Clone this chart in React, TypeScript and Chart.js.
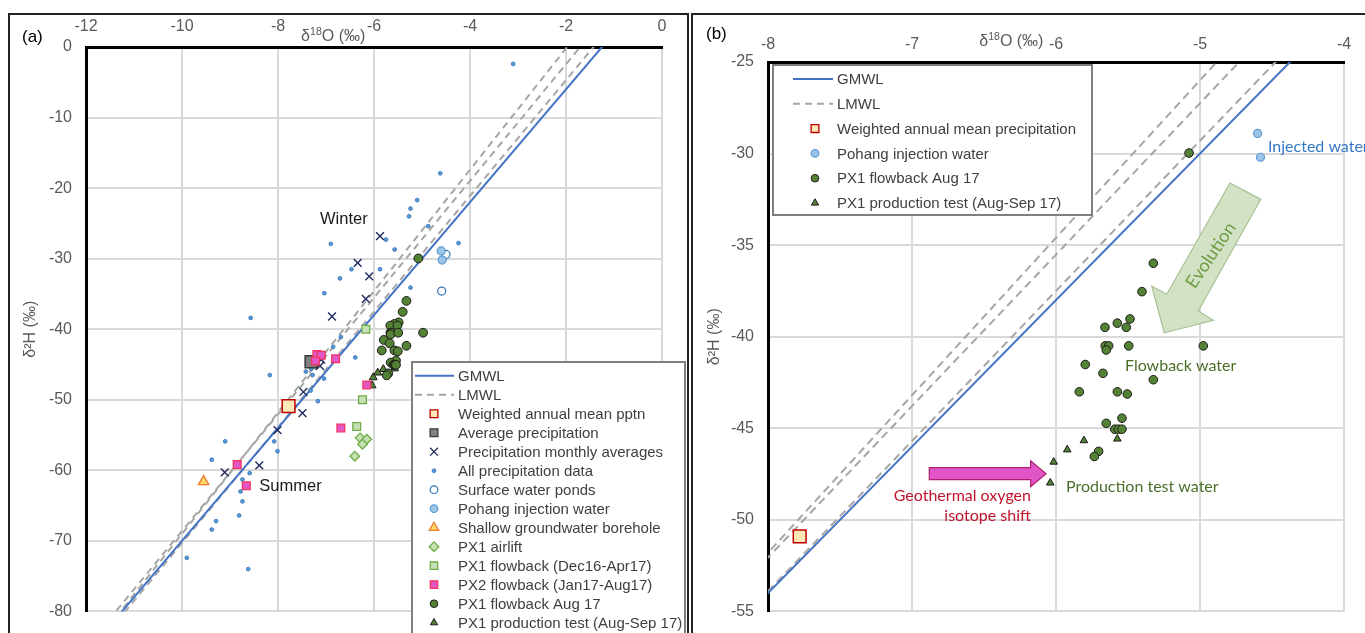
import React, { useEffect, useRef } from 'react';
import { Chart, registerables } from 'chart.js';

Chart.register(...registerables);

type P = [number, number];

const FONT = "'Liberation Sans', Arial, sans-serif";
const CAL = "Lato, 'Open Sans', sans-serif";

// ---------- axes ----------
const xRangeA: P = [-12, 0];
const xStepA = 2;
const yRangeA: P = [-80, 0];
const yStepA = 10;
const xRangeB: P = [-8, -4];
const xStepB = 1;
const yRangeB: P = [-55, -25];
const yStepB = 5;

// ---------- meteoric water lines (end points, d18O, d2H) ----------
const gmwl: P[] = [[-12, -86], [0, 10]];
const lmwl1: P[] = [[-12, -86.2], [0, 17]];
const lmwl2: P[] = [[-12, -85.14], [0, 14.1]];
const lmwl3: P[] = [[-12, -86.7], [0, 11.7]];

// ---------- samples (d18O, d2H) ----------
const weightedMean: P[] = [[-7.78, -50.9]];
const averagePrecip: P[] = [[-7.31, -44.6]];
const monthlyAverages: P[] = [
  [-5.875, -26.8], [-6.34, -30.6], [-6.1, -32.5], [-6.17, -35.7], [-6.875, -38.2], [-7.1, -44.3],
  [-7.125, -45.2], [-7.47, -48.9], [-7.49, -51.9], [-8.01, -54.3], [-8.39, -59.3], [-9.11, -60.3],
];
const allPrecip: P[] = [
  [-3.1, -2.4], [-4.62, -17.9], [-5.1, -21.7], [-5.24, -22.9], [-5.27, -24.0], [-4.87, -25.4],
  [-4.24, -27.8], [-5.75, -27.3], [-5.57, -28.7], [-5.875, -31.5], [-5.24, -34.1], [-6.9, -27.9],
  [-6.47, -31.5], [-6.71, -32.8], [-7.035, -34.9], [-8.57, -38.4], [-6.69, -41.1], [-6.85, -42.5],
  [-6.39, -44.0], [-7.42, -46.0], [-7.28, -46.5], [-7.31, -45.6], [-7.04, -47.0], [-8.17, -46.5],
  [-7.32, -48.7], [-7.17, -50.2], [-9.1, -55.9], [-8.08, -55.9], [-8.01, -57.3], [-9.38, -58.5],
  [-8.59, -60.4], [-8.74, -61.3], [-8.78, -63.0], [-8.74, -64.4], [-8.81, -66.4], [-9.29, -67.2],
  [-9.38, -68.4], [-9.9, -72.4], [-8.62, -74.0],
];
const surfacePonds: P[] = [[-4.5, -29.4], [-4.59, -34.6]];
const pohangInjection: P[] = [[-4.6, -28.9], [-4.58, -30.2]];
const shallowGroundwater: P[] = [[-9.55, -61.6]];
const px1Airlift: P[] = [[-6.29, -55.4], [-6.15, -55.6], [-6.24, -56.3], [-6.4, -58.0]];
const px1FlowbackEarly: P[] = [[-6.17, -40.0], [-6.24, -50.0], [-6.36, -53.8]];
const px2Flowback: P[] = [
  [-7.19, -43.6], [-7.1, -43.7], [-7.22, -44.5], [-6.8, -44.2], [-6.15, -47.9], [-6.69, -54.0],
  [-8.85, -59.2], [-8.66, -62.2],
];
const px1FlowbackAug: P[] = [
  [-5.076, -29.97], [-5.324, -35.99], [-5.403, -37.54], [-5.486, -39.03], [-5.574, -39.26],
  [-5.66, -39.49], [-5.512, -39.49], [-5.658, -40.5], [-5.634, -40.5], [-5.651, -40.73],
  [-5.495, -40.5], [-4.977, -40.5], [-5.797, -41.52], [-5.674, -42.0], [-5.324, -42.35],
  [-5.838, -43.01], [-5.574, -43.01], [-5.505, -43.13], [-5.542, -44.45], [-5.651, -44.73],
  [-5.592, -45.05], [-5.567, -45.05], [-5.542, -45.05], [-5.704, -46.26], [-5.734, -46.54],
];
const px1Production: P[] = [[-6.016, -46.84], [-6.04, -47.98], [-5.922, -46.17], [-5.806, -45.67], [-5.574, -45.58]];

// ---------- annotations (data coordinates) ----------
const winterLabel: P = [-7.125, -24.5];
const summerLabel: P = [-8.39, -62.24];
const titleCenterA = -6.85;
const titleCenterB = -6.31;
const evolutionArrow: P[] = [
  [-4.792, -31.61], [-4.578, -32.5], [-5.012, -38.6], [-4.908, -39.1], [-5.248, -39.79], [-5.335, -37.24], [-5.231, -37.68],
];
const evolutionLabel: P = [-4.924, -35.55];
const shiftArrow: P[] = [
  [-6.88, -47.15], [-6.176, -47.15], [-6.176, -46.77], [-6.069, -47.48], [-6.176, -48.19], [-6.176, -47.8], [-6.88, -47.8],
];
const injectedLabel: P = [-4.528, -29.63];
const flowbackLabel: P = [-5.521, -41.57];
const productionLabel: P = [-5.931, -48.18];
const geoLabel1: P = [-6.174, -48.69];
const geoLabel2: P = [-6.174, -49.76];

type Style = 'rect' | 'circle' | 'triangle' | 'rectRot' | 'crossRot';
interface Spec { label: string; data: P[]; style: Style; fill: string; stroke: string; lw: number; order: number }

const S = {
  weighted: { label: 'Weighted annual mean pptn', data: weightedMean, style: 'rect', fill: '#fde9b8', stroke: '#c00000', lw: 1.5, order: 2 },
  average: { label: 'Average precipitation', data: averagePrecip, style: 'rect', fill: '#808080', stroke: '#3a3a3a', lw: 1.5, order: 4 },
  monthly: { label: 'Precipitation monthly averages', data: monthlyAverages, style: 'crossRot', fill: '#1f2a5c', stroke: '#1f2a5c', lw: 1.4, order: 3 },
  all: { label: 'All precipitation data', data: allPrecip, style: 'circle', fill: '#5b9bd5', stroke: '#2e6fb8', lw: 0.8, order: 9 },
  ponds: { label: 'Surface water ponds', data: surfacePonds, style: 'circle', fill: '#ffffff', stroke: '#2e75b6', lw: 1.2, order: 7 },
  pohang: { label: 'Pohang injection water', data: pohangInjection, style: 'circle', fill: '#9dc3e6', stroke: '#5b9bd5', lw: 1.2, order: 6 },
  shallow: { label: 'Shallow groundwater borehole', data: shallowGroundwater, style: 'triangle', fill: '#ffd966', stroke: '#ed7d31', lw: 1.4, order: 5 },
  airlift: { label: 'PX1 airlift', data: px1Airlift, style: 'rectRot', fill: '#c5e0b4', stroke: '#70ad47', lw: 1.3, order: 5 },
  early: { label: 'PX1 flowback (Dec16-Apr17)', data: px1FlowbackEarly, style: 'rect', fill: '#c5e0b4', stroke: '#70ad47', lw: 1.3, order: 5 },
  px2: { label: 'PX2 flowback (Jan17-Aug17)', data: px2Flowback, style: 'rect', fill: '#e256c6', stroke: '#f5345f', lw: 1.3, order: 1 },
  aug: { label: 'PX1 flowback Aug 17', data: px1FlowbackAug, style: 'circle', fill: '#548235', stroke: '#1a1a1a', lw: 1, order: 1 },
  prod: { label: 'PX1 production test (Aug-Sep 17)', data: px1Production, style: 'triangle', fill: '#548235', stroke: '#1a1a1a', lw: 1, order: 1 },
} as Record<string, Spec>;

const toXY = (arr: P[]) => arr.map(([x, y]) => ({ x, y }));

function pointDs(s: Spec, r: number) {
  return {
    label: s.label, data: toXY(s.data), showLine: false, pointStyle: s.style, pointRadius: r, pointHoverRadius: r,
    pointBackgroundColor: s.fill, pointBorderColor: s.stroke, pointBorderWidth: s.lw, pointHoverBorderWidth: s.lw,
    backgroundColor: s.fill, borderColor: s.stroke, order: s.order,
  };
}
function lineDs(label: string, data: P[], color: string, dash: number[]) {
  return {
    label, data: toXY(data), showLine: true, borderColor: color, borderWidth: 2, borderDash: dash,
    pointRadius: 0, pointHoverRadius: 0, fill: false, order: 20,
  };
}

function drawMarker(ctx: CanvasRenderingContext2D, style: Style, x: number, y: number, r: number, fill: string, stroke: string, lw: number) {
  ctx.save();
  ctx.beginPath();
  ctx.lineWidth = lw;
  ctx.fillStyle = fill;
  ctx.strokeStyle = stroke;
  if (style === 'rect') {
    const s = r * Math.SQRT1_2;
    ctx.rect(x - s, y - s, 2 * s, 2 * s);
  } else if (style === 'circle') {
    ctx.arc(x, y, r, 0, Math.PI * 2);
  } else if (style === 'triangle') {
    ctx.moveTo(x, y - r);
    ctx.lineTo(x + r * 0.866, y + r * 0.5);
    ctx.lineTo(x - r * 0.866, y + r * 0.5);
    ctx.closePath();
  } else if (style === 'rectRot') {
    ctx.moveTo(x, y - r);
    ctx.lineTo(x + r, y);
    ctx.lineTo(x, y + r);
    ctx.lineTo(x - r, y);
    ctx.closePath();
  } else if (style === 'crossRot') {
    const d = r * Math.SQRT1_2;
    ctx.moveTo(x - d, y - d); ctx.lineTo(x + d, y + d);
    ctx.moveTo(x + d, y - d); ctx.lineTo(x - d, y + d);
    ctx.stroke();
    ctx.restore();
    return;
  }
  ctx.fill();
  ctx.stroke();
  ctx.restore();
}

interface LegendItem { label: string; line?: { color: string; dash: number[] }; spec?: Spec; r?: number }
interface LegendGeom { bx: number; by: number; bw: number; bh: number; y0: number; dy: number; lx0: number; lx1: number; mx: number; tx: number; size: number }

function drawLegend(ctx: CanvasRenderingContext2D, items: LegendItem[], g: LegendGeom) {
  ctx.save();
  ctx.fillStyle = '#ffffff';
  ctx.fillRect(g.bx, g.by, g.bw, g.bh);
  ctx.strokeStyle = '#7f7f7f';
  ctx.lineWidth = 2;
  ctx.strokeRect(g.bx, g.by, g.bw, g.bh);
  items.forEach((it, i) => {
    const y = g.y0 + i * g.dy;
    if (it.line) {
      ctx.beginPath();
      ctx.setLineDash(it.line.dash);
      ctx.strokeStyle = it.line.color;
      ctx.lineWidth = 2;
      ctx.moveTo(g.lx0, y);
      ctx.lineTo(g.lx1, y);
      ctx.stroke();
      ctx.setLineDash([]);
    } else if (it.spec) {
      drawMarker(ctx, it.spec.style, g.mx, y, it.r || 4, it.spec.fill, it.spec.stroke, Math.min(it.spec.lw, 1.3));
    }
    ctx.fillStyle = '#404040';
    ctx.font = `${g.size}px ${FONT}`;
    ctx.textAlign = 'left';
    ctx.textBaseline = 'middle';
    ctx.fillText(it.label, g.tx, y + 1);
  });
  ctx.restore();
}

function drawDeltaTitle(ctx: CanvasRenderingContext2D, cx: number, cy: number, size: number) {
  const f = (s: number) => `${s}px ${FONT}`;
  ctx.save();
  ctx.fillStyle = '#595959';
  ctx.textAlign = 'left';
  ctx.textBaseline = 'middle';
  ctx.font = f(size); const w1 = ctx.measureText('δ').width;
  ctx.font = f(size * 0.66); const w2 = ctx.measureText('18').width;
  ctx.font = f(size); const w3 = ctx.measureText('O (‰)').width;
  let x = cx - (w1 + w2 + w3) / 2;
  ctx.font = f(size); ctx.fillText('δ', x, cy); x += w1;
  ctx.font = f(size * 0.66); ctx.fillText('18', x, cy - size * 0.3); x += w2;
  ctx.font = f(size); ctx.fillText('O (‰)', x, cy);
  ctx.restore();
}

function polygon(ctx: CanvasRenderingContext2D, pts: P[], px: (v: number) => number, py: (v: number) => number) {
  ctx.beginPath();
  pts.forEach(([a, b], i) => (i ? ctx.lineTo(px(a), py(b)) : ctx.moveTo(px(a), py(b))));
  ctx.closePath();
}

function text(ctx: CanvasRenderingContext2D, s: string, x: number, y: number, font: string, color: string, align: CanvasTextAlign = 'left') {
  ctx.save();
  ctx.font = font;
  ctx.fillStyle = color;
  ctx.textAlign = align;
  ctx.textBaseline = 'middle';
  ctx.fillText(s, x, y);
  ctx.restore();
}

function scales(xr: P, xs: number, yr: P, ys: number, yw: number, xh: number, xpad: number) {
  const tickFont = { family: FONT, size: 16 };
  return {
    x: {
      type: 'linear', position: 'top', min: xr[0], max: xr[1],
      ticks: { stepSize: xs, color: '#595959', font: tickFont, padding: xpad, maxRotation: 0, autoSkip: false },
      grid: { color: '#d9d9d9', lineWidth: 2, drawTicks: false },
      border: { display: true, color: '#000000', width: 3 },
      afterFit: (s: any) => { s.height = xh; },
    },
    y: {
      type: 'linear', min: yr[0], max: yr[1],
      ticks: { stepSize: ys, color: '#595959', font: tickFont, padding: 14, autoSkip: false },
      grid: { color: '#d9d9d9', lineWidth: 2, drawTicks: false },
      border: { display: true, color: '#000000', width: 3 },
      title: { display: true, text: 'δ²H (‰)', color: '#595959', font: { family: FONT, size: 16 }, padding: { top: 13, bottom: 0 } },
      afterFit: (s: any) => { s.width = yw; },
    },
  };
}

function configA(): any {
  const lines = [
    lineDs('GMWL', gmwl, '#4472c4', []),
    lineDs('LMWL', lmwl1, '#a6a6a6', [7, 5]),
    lineDs('LMWL 2', lmwl2, '#a6a6a6', [7, 5]),
    lineDs('LMWL 3', lmwl3, '#a6a6a6', [7, 5]),
  ];
  lines[0].order = 19;
  const pts = [
    pointDs(S.weighted, 9),
    pointDs(S.average, 8.5),
    pointDs(S.monthly, 5.5),
    pointDs(S.all, 1.9),
    pointDs(S.ponds, 4),
    pointDs(S.pohang, 4),
    pointDs(S.shallow, 6),
    pointDs(S.airlift, 4.8),
    pointDs(S.early, 5.5),
    pointDs(S.px2, 5.5),
    pointDs(S.aug, 4.4),
    pointDs(S.prod, 4.6),
  ];
  const legendItems: LegendItem[] = [
    { label: 'GMWL', line: { color: '#4472c4', dash: [] } },
    { label: 'LMWL', line: { color: '#a6a6a6', dash: [7, 5] } },
    { label: S.weighted.label, spec: S.weighted, r: 5.5 },
    { label: S.average.label, spec: S.average, r: 5.5 },
    { label: S.monthly.label, spec: S.monthly, r: 5.5 },
    { label: S.all.label, spec: S.all, r: 1.9 },
    { label: S.ponds.label, spec: S.ponds, r: 3.8 },
    { label: S.pohang.label, spec: S.pohang, r: 3.8 },
    { label: S.shallow.label, spec: S.shallow, r: 5.5 },
    { label: S.airlift.label, spec: S.airlift, r: 4.8 },
    { label: S.early.label, spec: S.early, r: 5.2 },
    { label: S.px2.label, spec: S.px2, r: 5.2 },
    { label: S.aug.label, spec: S.aug, r: 3.8 },
    { label: S.prod.label, spec: S.prod, r: 4.2 },
  ];
  const plugin = {
    id: 'overlayA',
    afterDatasetsDraw(chart: any) {
      const { ctx, scales: sc } = chart;
      const px = (v: number) => sc.x.getPixelForValue(v);
      const py = (v: number) => sc.y.getPixelForValue(v);
      text(ctx, 'Winter', px(winterLabel[0]), py(winterLabel[1]), `16.5px ${FONT}`, '#1a1a1a');
      text(ctx, 'Summer', px(summerLabel[0]), py(summerLabel[1]), `16.5px ${FONT}`, '#1a1a1a');
    },
    afterDraw(chart: any) {
      const { ctx, scales: sc, chartArea } = chart;
      drawDeltaTitle(ctx, sc.x.getPixelForValue(titleCenterA), chartArea.top - 10, 16);
      text(ctx, '(a)', 14, 24, `17px ${FONT}`, '#000000');
      drawLegend(ctx, legendItems, {
        bx: 404, by: 349, bw: 273, bh: 280, y0: 362.7, dy: 19.0, lx0: 407, lx1: 446, mx: 426, tx: 450, size: 15,
      });
    },
  };
  return {
    type: 'scatter',
    data: { datasets: [...pts, ...lines] },
    options: {
      animation: false, responsive: true, maintainAspectRatio: false, events: [],
      layout: { padding: { left: 0, top: 0, right: 27, bottom: 10 } },
      plugins: { legend: { display: false }, tooltip: { enabled: false } },
      scales: scales(xRangeA, xStepA, yRangeA, yStepA, 78, 34, 11),
    },
    plugins: [plugin],
  };
}

function configB(): any {
  const lines = [
    lineDs('GMWL', gmwl, '#4472c4', []),
    lineDs('LMWL', lmwl1, '#a6a6a6', [8, 5]),
    lineDs('LMWL 2', lmwl2, '#a6a6a6', [8, 5]),
    lineDs('LMWL 3', lmwl3, '#a6a6a6', [8, 5]),
  ];
  const pts = [
    pointDs({ ...S.weighted, label: 'Weighted annual mean precipitation' }, 9),
    pointDs(S.pohang, 4),
    pointDs(S.aug, 4.3),
    pointDs(S.prod, 4.4),
  ];
  const legendItems: LegendItem[] = [
    { label: 'GMWL', line: { color: '#4472c4', dash: [] } },
    { label: 'LMWL', line: { color: '#a6a6a6', dash: [7, 5] } },
    { label: 'Weighted annual mean precipitation', spec: S.weighted, r: 5.5 },
    { label: S.pohang.label, spec: S.pohang, r: 3.8 },
    { label: S.aug.label, spec: S.aug, r: 3.8 },
    { label: S.prod.label, spec: S.prod, r: 4.2 },
  ];
  const plugin = {
    id: 'overlayB',
    afterDatasetsDraw(chart: any) {
      const { ctx, scales: sc } = chart;
      const px = (v: number) => sc.x.getPixelForValue(v);
      const py = (v: number) => sc.y.getPixelForValue(v);
      ctx.save();
      polygon(ctx, evolutionArrow, px, py);
      ctx.fillStyle = '#d3e2c4';
      ctx.fill();
      ctx.strokeStyle = '#a6c294';
      ctx.lineWidth = 1.2;
      ctx.stroke();
      ctx.translate(px(evolutionLabel[0]), py(evolutionLabel[1]));
      ctx.rotate((-56 * Math.PI) / 180);
      ctx.font = `18px ${CAL}`;
      ctx.fillStyle = '#6f9d46';
      ctx.textAlign = 'center';
      ctx.textBaseline = 'middle';
      ctx.fillText('Evolution', 0, 0);
      ctx.restore();

      ctx.save();
      polygon(ctx, shiftArrow, px, py);
      ctx.fillStyle = '#e055c8';
      ctx.fill();
      ctx.strokeStyle = '#b0206a';
      ctx.lineWidth = 1.2;
      ctx.stroke();
      ctx.restore();

      text(ctx, 'Injected water', px(injectedLabel[0]), py(injectedLabel[1]), `16px ${CAL}`, '#3478c8');
      text(ctx, 'Flowback water', px(flowbackLabel[0]), py(flowbackLabel[1]), `16px ${CAL}`, '#4b6e2b');
      text(ctx, 'Production test water', px(productionLabel[0]), py(productionLabel[1]), `16px ${CAL}`, '#4b6e2b');
      text(ctx, 'Geothermal oxygen', px(geoLabel1[0]), py(geoLabel1[1]), `16px ${CAL}`, '#c0142c', 'right');
      text(ctx, 'isotope shift', px(geoLabel2[0]), py(geoLabel2[1]), `16px ${CAL}`, '#c0142c', 'right');
    },
    afterDraw(chart: any) {
      const { ctx, scales: sc, chartArea } = chart;
      drawDeltaTitle(ctx, sc.x.getPixelForValue(titleCenterB), chartArea.top - 20, 16);
      text(ctx, '(b)', 14, 20, `17px ${FONT}`, '#000000');
      drawLegend(ctx, legendItems, {
        bx: 81, by: 51, bw: 319, bh: 150, y0: 65, dy: 24.8, lx0: 101, lx1: 141, mx: 123, tx: 145, size: 15,
      });
    },
  };
  return {
    type: 'scatter',
    data: { datasets: [...pts, ...lines] },
    options: {
      animation: false, responsive: true, maintainAspectRatio: false, events: [],
      layout: { padding: { left: 0, top: 0, right: 21, bottom: 9 } },
      plugins: { legend: { display: false }, tooltip: { enabled: false } },
      scales: scales(xRangeB, xStepB, yRangeB, yStepB, 76, 48, 8),
    },
    plugins: [plugin],
  };
}

export default function App() {
  const refA = useRef<HTMLCanvasElement>(null);
  const refB = useRef<HTMLCanvasElement>(null);
  useEffect(() => {
    const a = new Chart(refA.current as HTMLCanvasElement, configA());
    const b = new Chart(refB.current as HTMLCanvasElement, configB());
    return () => {
      a.destroy();
      b.destroy();
    };
  }, []);
  return (
    <div style={{ position: 'fixed', left: 0, top: 0, width: 1365, height: 633, overflow: 'hidden', background: '#ffffff' }}>
      <div style={{ position: 'absolute', left: 8, top: 13, width: 681, height: 640, border: '2px solid #222', boxSizing: 'border-box' }} />
      <div style={{ position: 'absolute', left: 691, top: 13, width: 680, height: 640, border: '2px solid #222', boxSizing: 'border-box' }} />
      <div style={{ position: 'absolute', left: 8, top: 13, width: 681, height: 622 }}>
        <canvas ref={refA} />
      </div>
      <div style={{ position: 'absolute', left: 692, top: 14, width: 673, height: 621 }}>
        <canvas ref={refB} />
      </div>
    </div>
  );
}
